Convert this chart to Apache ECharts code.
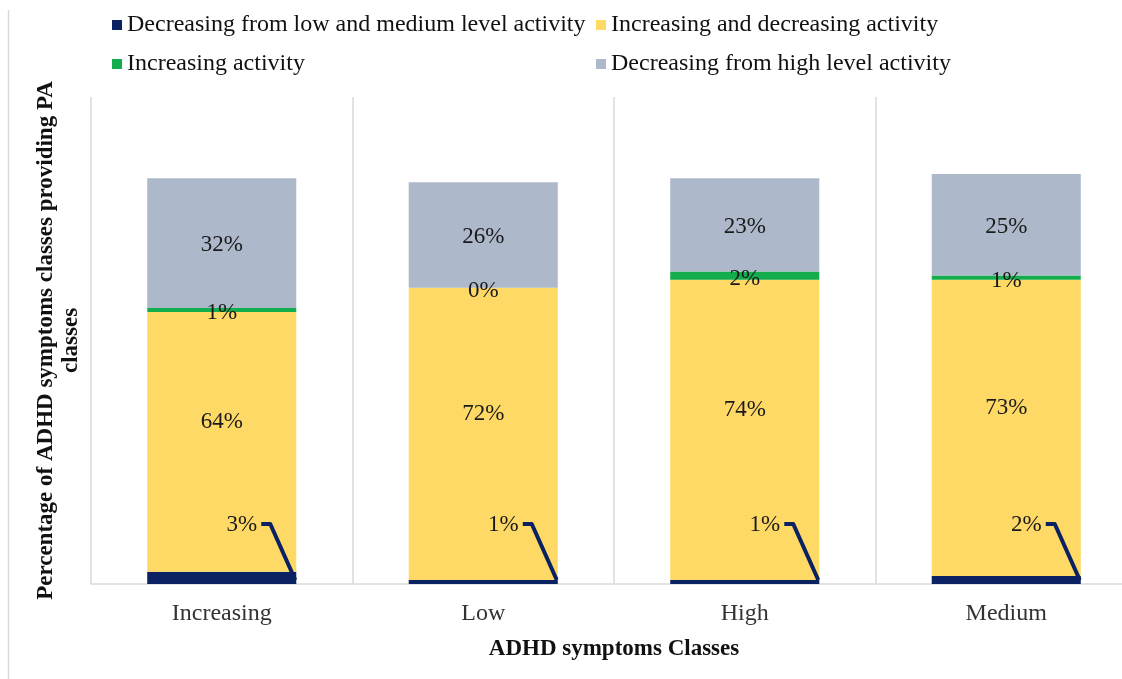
<!DOCTYPE html>
<html>
<head>
<meta charset="utf-8">
<title>PA classes by ADHD symptoms class</title>
<script src="https://cdn.jsdelivr.net/npm/echarts@6/dist/echarts.min.js"></script>
<style>
  html, body { margin: 0; padding: 0; background: #ffffff; overflow: hidden; }
  /* The plot runs slightly past the right edge of the page, so the last
     category is cut off there. */
  #chart { width: 1140px; height: 679px; }
</style>
</head>
<body>
<div id="chart"></div>
<script>
// ADHD symptom classes (x axis)
const categories = ['Increasing', 'Low', 'High', 'Medium'];

// Share (%) of each physical-activity class within each ADHD class
const decreasingLowMedium = [3, 1, 1, 2];
const increasingDecreasing = [64, 72, 74, 73];
const increasingActivity = [1, 0, 2, 1];
const decreasingHigh = [32, 26, 23, 25];

const seriesNames = [
  'Decreasing from low and medium level activity',
  'Increasing and decreasing activity',
  'Increasing activity',
  'Decreasing from high level activity'
];

const COLORS = ['#0b2262', '#ffd966', '#14ad4e', '#adb9ca'];
const FONT = '"Liberation Serif", "Times New Roman", serif';
const BAR_FRACTION = 0.57;
const VALUE_FONT_SIZE = 23;

const chart = echarts.init(document.getElementById('chart'), null, { renderer: 'canvas' });

function valueLabel(offsetY) {
  return {
    show: true,
    position: 'inside',
    offset: [0, offsetY],
    formatter: p => p.value + '%',
    fontFamily: FONT,
    fontSize: VALUE_FONT_SIZE,
    color: '#1a1a1a'
  };
}

function barSeries(name, data, color, label) {
  return {
    name: name,
    type: 'bar',
    stack: 'total',
    data: data,
    barWidth: (BAR_FRACTION * 100) + '%',
    itemStyle: { color: color },
    label: label || { show: false },
    emphasis: { disabled: true }
  };
}

// Call-out for the thin bottom segment: value text with an elbow leader
// running down to the right-hand corner of that segment.
function renderCallout(params, api) {
  const idx = api.value(0);
  const val = api.value(1);
  const base = api.coord([idx, 0]);
  const half = api.size([1, 0])[0] * BAR_FRACTION / 2;
  const rx = base[0] + half;
  const by = base[1];
  const ly = by - 60;
  return {
    type: 'group',
    children: [
      {
        type: 'polyline',
        shape: { points: [[rx - 35, ly], [rx - 26, ly], [rx - 1, by - 4]] },
        style: { stroke: COLORS[0], lineWidth: 4, fill: null, lineJoin: 'round' }
      },
      {
        type: 'text',
        style: {
          text: val + '%',
          x: rx - 39,
          y: ly + 1,
          align: 'right',
          verticalAlign: 'middle',
          font: VALUE_FONT_SIZE + 'px ' + FONT,
          fill: '#1a1a1a'
        }
      }
    ]
  };
}

const legendText = { fontFamily: FONT, fontSize: 24, lineHeight: 24, color: '#111' };

const option = {
  backgroundColor: '#ffffff',
  animation: false,
  textStyle: { fontFamily: FONT },
  graphic: [
    {
      type: 'line',
      shape: { x1: 8.5, y1: 10, x2: 8.5, y2: 679 },
      style: { stroke: '#d9d9d9', lineWidth: 1.5 }
    }
  ],
  legend: [
    {
      left: 107,
      top: 8,
      orient: 'vertical',
      data: [seriesNames[0], seriesNames[2]],
      icon: 'rect',
      itemWidth: 10,
      itemHeight: 10,
      itemGap: 15,
      textStyle: legendText,
      selectedMode: false
    },
    {
      left: 591,
      top: 8,
      orient: 'vertical',
      data: [seriesNames[1], seriesNames[3]],
      icon: 'rect',
      itemWidth: 10,
      itemHeight: 10,
      itemGap: 15,
      textStyle: legendText,
      selectedMode: false
    }
  ],
  grid: { left: 91, top: 97, width: 1046, height: 487, containLabel: false },
  xAxis: {
    type: 'category',
    data: categories,
    axisLine: { show: true, lineStyle: { color: '#d9d9d9', width: 1.5 } },
    axisTick: { show: false },
    axisLabel: { fontFamily: FONT, fontSize: 24, color: '#333', margin: 18 },
    splitLine: { show: true, lineStyle: { color: '#d9d9d9', width: 1.5 } },
    name: 'ADHD symptoms Classes',
    nameLocation: 'middle',
    nameGap: 54,
    nameTextStyle: { fontFamily: FONT, fontSize: 23, fontWeight: 'bold', color: '#111' }
  },
  yAxis: {
    type: 'value',
    min: 0,
    max: 120,
    axisLine: { show: false },
    axisTick: { show: false },
    axisLabel: { show: false },
    splitLine: { show: false },
    name: 'Percentage of ADHD symptoms classes providing PA\nclasses',
    nameLocation: 'middle',
    nameGap: 7,
    nameTextStyle: { fontFamily: FONT, fontSize: 23, fontWeight: 'bold', color: '#111', lineHeight: 25, align: 'center' }
  },
  series: [
    barSeries(seriesNames[0], decreasingLowMedium, COLORS[0], null),
    barSeries(seriesNames[1], increasingDecreasing, COLORS[1], valueLabel(-20)),
    barSeries(seriesNames[2], increasingActivity, COLORS[2], valueLabel(3)),
    barSeries(seriesNames[3], decreasingHigh, COLORS[3], valueLabel(2)),
    {
      name: 'callout',
      type: 'custom',
      renderItem: renderCallout,
      data: categories.map((c, i) => [i, decreasingLowMedium[i]]),
      z: 10,
      silent: true
    }
  ]
};

chart.setOption(option);
</script>
</body>
</html>
